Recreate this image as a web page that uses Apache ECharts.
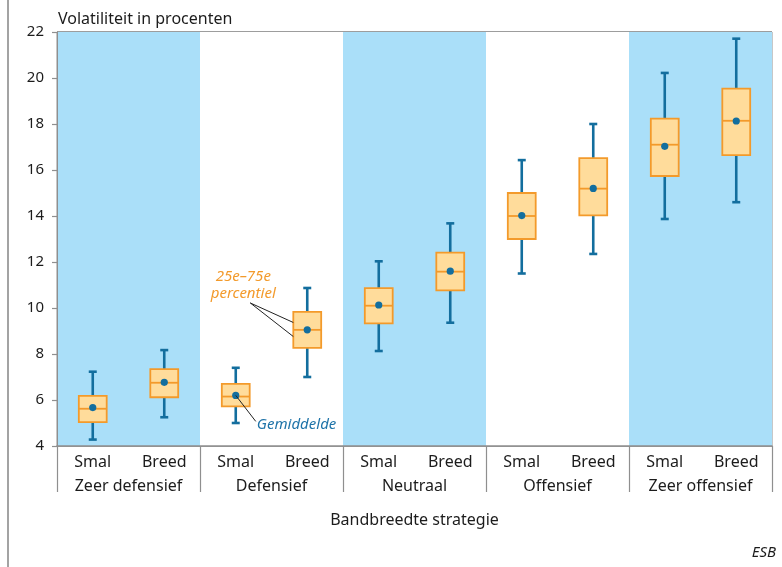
<!DOCTYPE html>
<html>
<head>
<meta charset="utf-8">
<script src="https://cdn.jsdelivr.net/npm/echarts@6/dist/echarts.min.js"></script>
<style>
html,body{margin:0;padding:0;background:#fff;}
#c{width:782px;height:567px;}
</style>
</head>
<body>
<div id="c"></div>
<script>
// ---- data ----
const categories = ['Smal','Breed','Smal','Breed','Smal','Breed','Smal','Breed','Smal','Breed'];
const groups = ['Zeer defensief','Defensief','Neutraal','Offensief','Zeer offensief'];
const whiskerLow  = [4.28, 5.25, 5.00, 7.00, 8.13, 9.36, 11.50, 12.35, 13.87, 14.60];
const q1          = [5.04, 6.12, 5.72, 8.27, 9.33, 10.77, 13.00, 14.03, 15.74, 16.65];
const median      = [5.62, 6.75, 6.15, 9.05, 10.10, 11.58, 14.00, 15.19, 17.10, 18.14];
const q3          = [6.18, 7.34, 6.70, 9.83, 10.86, 12.41, 15.00, 16.52, 18.23, 19.54];
const whiskerHigh = [7.23, 8.17, 7.40, 10.87, 12.03, 13.68, 16.43, 18.00, 20.22, 21.71];
const mean        = [5.67, 6.77, 6.20, 9.05, 10.13, 11.60, 14.02, 15.20, 17.03, 18.13];
const yTicks = {min: 4, max: 22, interval: 2};

const FONT = 'Noto Sans';
const BLUE = '#136e9e';
const ORANGE = '#f39a2b';
const FILL = '#ffdc9b';
const BAND = '#aadff9';
const GRIDC = '#8f8f8f';
const TXT = '#1c1c1c';

const boxData = categories.map((c, i) => [i, whiskerLow[i], q1[i], median[i], q3[i], whiskerHigh[i], mean[i]]);

const chart = echarts.init(document.getElementById('c'), null, {renderer: 'canvas'});

function renderBox(params, api) {
  const x = api.value(0);
  const pMin = api.coord([x, api.value(1)]);
  const pQ1 = api.coord([x, api.value(2)]);
  const pMed = api.coord([x, api.value(3)]);
  const pQ3 = api.coord([x, api.value(4)]);
  const pMax = api.coord([x, api.value(5)]);
  const pMean = api.coord([x, api.value(6)]);
  const bw = api.size([1, 0])[0] * 0.39;
  const cap = 8;
  const cx = pMed[0];
  return {
    type: 'group',
    children: [
      {type: 'line', shape: {x1: cx, y1: pMin[1], x2: cx, y2: pMax[1]}, style: {stroke: BLUE, lineWidth: 2.6}},
      {type: 'line', shape: {x1: cx - cap / 2, y1: pMin[1], x2: cx + cap / 2, y2: pMin[1]}, style: {stroke: BLUE, lineWidth: 2.6}},
      {type: 'line', shape: {x1: cx - cap / 2, y1: pMax[1], x2: cx + cap / 2, y2: pMax[1]}, style: {stroke: BLUE, lineWidth: 2.6}},
      {type: 'rect', shape: {x: cx - bw / 2, y: pQ3[1], width: bw, height: pQ1[1] - pQ3[1]}, style: {fill: FILL, stroke: ORANGE, lineWidth: 1.8}},
      {type: 'line', shape: {x1: cx - bw / 2, y1: pMed[1], x2: cx + bw / 2, y2: pMed[1]}, style: {stroke: ORANGE, lineWidth: 1.8}},
      {type: 'circle', shape: {cx: cx, cy: pMean[1], r: 3.6}, style: {fill: BLUE}}
    ]
  };
}

chart.setOption({
  animation: false,
  backgroundColor: '#fff',
  textStyle: {fontFamily: FONT},
  title: [
    {text: 'Volatiliteit in procenten', left: 58, top: 11, padding: 0, textStyle: {fontFamily: FONT, fontSize: 16, fontWeight: 'normal', color: TXT}},
    {text: 'ESB', right: 6, bottom: 7, padding: 0, textStyle: {fontFamily: FONT, fontSize: 15, fontStyle: 'italic', fontWeight: 'normal', color: TXT}}
  ],
  grid: {left: 57, right: 10, top: 32, bottom: 121, show: true, borderColor: GRIDC, borderWidth: 1, backgroundColor: 'transparent'},
  xAxis: [
    {
      type: 'category', data: categories, position: 'bottom',
      axisLine: {show: true, lineStyle: {color: GRIDC, width: 1.5}},
      axisTick: {show: false},
      axisLabel: {interval: 0, margin: 8, fontFamily: FONT, fontSize: 16, color: TXT},
      splitLine: {show: false}
    },
    {
      type: 'category', data: groups, position: 'bottom',
      axisLine: {show: false},
      axisTick: {show: true, interval: 0, length: 46, lineStyle: {color: GRIDC, width: 1.2}},
      axisLabel: {interval: 0, margin: 32, fontFamily: FONT, fontSize: 16, color: TXT},
      splitLine: {show: false},
      splitArea: {show: true, interval: 0, areaStyle: {color: [BAND, '#ffffff']}},
      name: 'Bandbreedte strategie', nameLocation: 'middle', nameGap: 66,
      nameTextStyle: {fontFamily: FONT, fontSize: 16, color: TXT}
    }
  ],
  yAxis: {
    type: 'value', min: yTicks.min, max: yTicks.max, interval: yTicks.interval,
    axisLine: {show: true, lineStyle: {color: GRIDC, width: 1}},
    axisTick: {show: true, length: 5, lineStyle: {color: GRIDC, width: 1.2}},
    axisLabel: {margin: 13, fontFamily: FONT, fontSize: 15, color: TXT},
    splitLine: {show: true, lineStyle: {color: GRIDC, width: 1.5}}
  },
  series: [{
    type: 'custom', xAxisIndex: 0, yAxisIndex: 0,
    renderItem: renderBox,
    encode: {x: 0, y: [1, 2, 3, 4, 5, 6]},
    data: boxData, z: 5
  }]
});

// ---- annotations anchored to data ----
const step = chart.convertToPixel({xAxisIndex: 0}, 1) - chart.convertToPixel({xAxisIndex: 0}, 0);
const half = step * 0.39 / 2;
const px = (i, v) => chart.convertToPixel({xAxisIndex: 0, yAxisIndex: 0}, [i, v]);

const b = 3; // Defensief Breed
const bc = px(b, median[b]);
const tA = px(b, median[b] + 0.32);
const tB = px(b, median[b] - 0.29);
const start = [bc[0] - 57, px(b, q3[b] + 0.39)[1]];

const s = 2; // Defensief Smal
const mPt = px(s, mean[s]);

chart.setOption({
  graphic: [
    {type: 'line', shape: {x1: 8, y1: 0, x2: 8, y2: 567}, style: {stroke: '#666', lineWidth: 1.2}, silent: true},
    {type: 'line', shape: {x1: start[0], y1: start[1], x2: tA[0] - half, y2: tA[1]}, style: {stroke: '#222', lineWidth: 1}, z: 10},
    {type: 'line', shape: {x1: start[0], y1: start[1], x2: tB[0] - half, y2: tB[1]}, style: {stroke: '#222', lineWidth: 1}, z: 10},
    {type: 'text', x: start[0] - 7, y: start[1] - 1, z: 10,
      style: {text: '25e–75e\npercentiel', fontFamily: FONT, fontSize: 15, fontStyle: 'italic', fill: ORANGE, align: 'center', verticalAlign: 'bottom', lineHeight: 17}},
    {type: 'line', shape: {x1: mPt[0], y1: mPt[1], x2: mPt[0] + 20, y2: mPt[1] + 26}, style: {stroke: '#222', lineWidth: 1}, z: 10},
    {type: 'text', x: mPt[0] + 21, y: mPt[1] + 29, z: 10,
      style: {text: 'Gemiddelde', fontFamily: FONT, fontSize: 15, fontStyle: 'italic', fill: '#1e73a8', align: 'left', verticalAlign: 'middle'}}
  ]
});
</script>
</body>
</html>
